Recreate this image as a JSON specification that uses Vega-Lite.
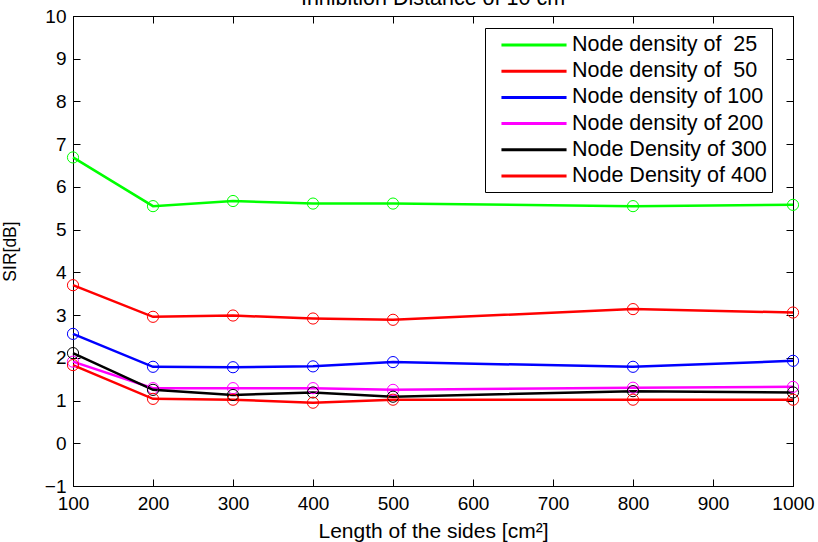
{
  "$schema": "https://vega.github.io/schema/vega-lite/v6.json",
  "width": 720,
  "height": 470,
  "autosize": {"type": "none"},
  "padding": {"left": 73, "top": 16, "right": 25, "bottom": 56},
  "background": "white",
  "title": {"text": "Inhibition Distance of 10 cm", "fontSize": 21.5, "fontWeight": "normal", "font": "Liberation Sans", "offset": 1, "dy": 20, "baseline": "alphabetic", "color": "black"},
  "config": {
    "font": "Liberation Sans",
    "view": {"stroke": "black", "strokeWidth": 1},
    "axis": {"grid": false, "domainColor": "black", "tickColor": "black", "labelColor": "black", "titleColor": "black", "labelFont": "Liberation Sans", "titleFont": "Liberation Sans", "labelFontSize": 19, "titleFontSize": 21, "titleFontWeight": "normal", "tickSize": -7, "labelFlush": false, "labelOverlap": false, "format": "d"}
  },
  "data": {"values": [
    {"x": 100, "y": 6.69, "s": "Node density of \u00a025"},
    {"x": 200, "y": 5.55, "s": "Node density of \u00a025"},
    {"x": 300, "y": 5.67, "s": "Node density of \u00a025"},
    {"x": 400, "y": 5.61, "s": "Node density of \u00a025"},
    {"x": 500, "y": 5.61, "s": "Node density of \u00a025"},
    {"x": 800, "y": 5.55, "s": "Node density of \u00a025"},
    {"x": 1000, "y": 5.58, "s": "Node density of \u00a025"},
    {"x": 100, "y": 3.70, "s": "Node density of \u00a050"},
    {"x": 200, "y": 2.96, "s": "Node density of \u00a050"},
    {"x": 300, "y": 2.99, "s": "Node density of \u00a050"},
    {"x": 400, "y": 2.92, "s": "Node density of \u00a050"},
    {"x": 500, "y": 2.89, "s": "Node density of \u00a050"},
    {"x": 800, "y": 3.14, "s": "Node density of \u00a050"},
    {"x": 1000, "y": 3.06, "s": "Node density of \u00a050"},
    {"x": 100, "y": 2.56, "s": "Node density of 100"},
    {"x": 200, "y": 1.79, "s": "Node density of 100"},
    {"x": 300, "y": 1.78, "s": "Node density of 100"},
    {"x": 400, "y": 1.80, "s": "Node density of 100"},
    {"x": 500, "y": 1.90, "s": "Node density of 100"},
    {"x": 800, "y": 1.79, "s": "Node density of 100"},
    {"x": 1000, "y": 1.93, "s": "Node density of 100"},
    {"x": 100, "y": 1.91, "s": "Node density of 200"},
    {"x": 200, "y": 1.29, "s": "Node density of 200"},
    {"x": 300, "y": 1.29, "s": "Node density of 200"},
    {"x": 400, "y": 1.29, "s": "Node density of 200"},
    {"x": 500, "y": 1.25, "s": "Node density of 200"},
    {"x": 800, "y": 1.30, "s": "Node density of 200"},
    {"x": 1000, "y": 1.32, "s": "Node density of 200"},
    {"x": 100, "y": 2.11, "s": "Node Density of 300"},
    {"x": 200, "y": 1.25, "s": "Node Density of 300"},
    {"x": 300, "y": 1.13, "s": "Node Density of 300"},
    {"x": 400, "y": 1.19, "s": "Node Density of 300"},
    {"x": 500, "y": 1.09, "s": "Node Density of 300"},
    {"x": 800, "y": 1.22, "s": "Node Density of 300"},
    {"x": 1000, "y": 1.19, "s": "Node Density of 300"},
    {"x": 100, "y": 1.83, "s": "Node Density of 400"},
    {"x": 200, "y": 1.04, "s": "Node Density of 400"},
    {"x": 300, "y": 1.02, "s": "Node Density of 400"},
    {"x": 400, "y": 0.95, "s": "Node Density of 400"},
    {"x": 500, "y": 1.02, "s": "Node Density of 400"},
    {"x": 800, "y": 1.02, "s": "Node Density of 400"},
    {"x": 1000, "y": 1.02, "s": "Node Density of 400"}
  ]},
  "layer": [
    {
      "mark": {"type": "line", "strokeWidth": 2.5},
      "encoding": {
        "x": {"field": "x", "type": "quantitative", "scale": {"domain": [100, 1000], "nice": false, "zero": false}, "axis": {"orient": "bottom", "title": "Length of the sides [cm²]", "values": [100, 200, 300, 400, 500, 600, 700, 800, 900, 1000], "labelPadding": 15, "titlePadding": 7}},
        "y": {"field": "y", "type": "quantitative", "scale": {"domain": [-1, 10], "nice": false, "zero": false}, "axis": {"orient": "left", "title": "SIR[dB]", "titleFontSize": 17.5, "values": [-1, 0, 1, 2, 3, 4, 5, 6, 7, 8, 9, 10], "labelPadding": 14, "titlePadding": 25}},
        "color": {"field": "s", "type": "nominal", "sort": null,
          "scale": {"domain": ["Node density of \u00a025", "Node density of \u00a050", "Node density of 100", "Node density of 200", "Node Density of 300", "Node Density of 400"], "range": ["#00ff00", "#ff0000", "#0000ff", "#ff00ff", "#000000", "#ff0000"]},
          "legend": {"title": null, "orient": "none", "legendX": 412, "legendY": 12, "fillColor": "white", "strokeColor": "black", "padding": 5, "symbolType": "M-3.1,0H3.1", "symbolSize": 441, "symbolStrokeWidth": 3, "symbolOffset": 32, "labelOffset": 26, "labelFont": "Liberation Sans", "labelFontSize": 21.5, "labelColor": "black", "labelLimit": 400, "rowPadding": 3.2}
        }
      }
    },
    {
      "mark": {"type": "point", "filled": false, "size": 125, "strokeWidth": 1, "opacity": 1},
      "encoding": {
        "x": {"field": "x", "type": "quantitative", "axis": null},
        "y": {"field": "y", "type": "quantitative", "axis": null},
        "color": {"field": "s", "type": "nominal", "legend": null}
      }
    },
    {
      "mark": {"type": "point", "opacity": 0},
      "encoding": {
        "x": {"field": "x", "type": "quantitative", "axis": {"orient": "top", "labels": false, "title": null, "values": [100, 200, 300, 400, 500, 600, 700, 800, 900, 1000]}},
        "y": {"field": "y", "type": "quantitative", "axis": {"orient": "right", "labels": false, "title": null, "values": [-1, 0, 1, 2, 3, 4, 5, 6, 7, 8, 9, 10]}}
      }
    }
  ],
  "resolve": {"axis": {"x": "independent", "y": "independent"}}
}
